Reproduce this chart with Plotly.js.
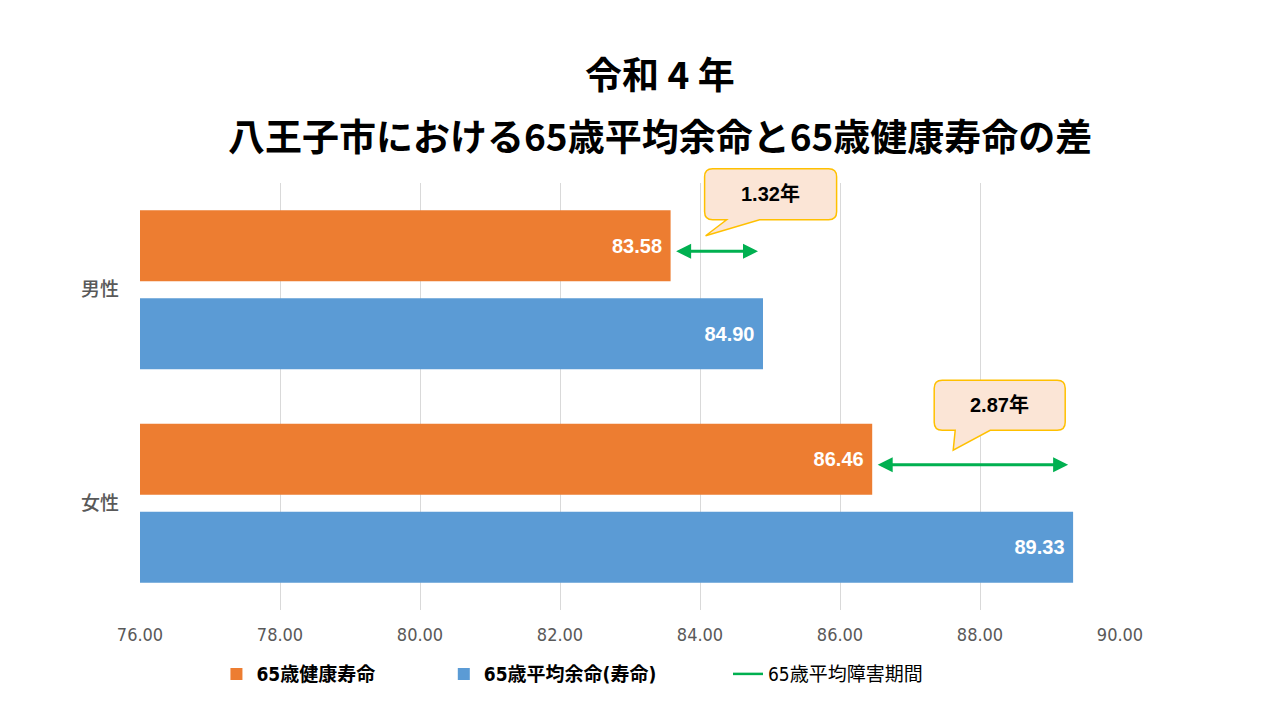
<!DOCTYPE html>
<html lang="ja">
<head>
<meta charset="utf-8">
<script src="https://cdn.plot.ly/plotly-3.0.1.min.js"></script>
<style>
  html, body { margin: 0; padding: 0; background: #fff; }
  #chart { width: 1280px; height: 720px; }
</style>
</head>
<body>
<div id="chart"></div>
<script>
// 区分
var categories = ["男性", "女性"];
// 65歳健康寿命
var healthy = [83.58, 86.46];
// 65歳平均余命(寿命)
var lifeExp = [84.90, 89.33];
var xTicks = [76, 78, 80, 82, 84, 86, 88, 90];

var seriesNames = ["65歳健康寿命", "65歳平均余命(寿命)", "65歳平均障害期間"];
var titleLines = ["令和 4 年", "八王子市における65歳平均余命と65歳健康寿命の差"];

var orange = "#ED7D31";
var blue = "#5B9BD5";
var green = "#00B050";
var cjk = "Noto Sans CJK JP";
var narrow = "Liberation Sans Narrow, DejaVu Sans Condensed, Noto Sans CJK JP";

// callout bubble geometry, pixel offsets from (健康寿命, category centre), y up
var bubbles = [
    {x0: 34, x1: 166, top: 121, bottom: 70, base0: 56, base1: 89, tipX: 35, tipY: 54},
    {x0: 62, x1: 193, top: 123, bottom: 73, base0: 83, base1: 118, tipX: 81, tipY: 53}
];

function bubblePath(b){
    var r = 8;
    return "M" + (b.x0 + r) + "," + b.top +
        " L" + (b.x1 - r) + "," + b.top +
        " Q" + b.x1 + "," + b.top + " " + b.x1 + "," + (b.top - r) +
        " L" + b.x1 + "," + (b.bottom + r) +
        " Q" + b.x1 + "," + b.bottom + " " + (b.x1 - r) + "," + b.bottom +
        " L" + b.base1 + "," + b.bottom +
        " L" + b.tipX + "," + b.tipY +
        " L" + b.base0 + "," + b.bottom +
        " L" + (b.x0 + r) + "," + b.bottom +
        " Q" + b.x0 + "," + b.bottom + " " + b.x0 + "," + (b.bottom + r) +
        " L" + b.x0 + "," + (b.top - r) +
        " Q" + b.x0 + "," + b.top + " " + (b.x0 + r) + "," + b.top + " Z";
}

function labels(arr){
    return arr.map(function(v){ return v.toFixed(2) + "\u00a0"; });
}

// paper position of a category centre (y axis reversed, range 1.5 .. -0.5)
function catPaper(i){
    return (1.5 - i) / 2;
}

var data = [{
    type: "bar",
    orientation: "h",
    name: seriesNames[0],
    y: categories,
    x: healthy,
    marker: {color: orange},
    text: labels(healthy),
    textposition: "inside",
    insidetextanchor: "end",
    textfont: {color: "#ffffff", size: 20, family: "Liberation Sans", weight: "bold"},
    legend: "legend",
    hoverinfo: "skip"
}, {
    type: "bar",
    orientation: "h",
    name: seriesNames[1],
    y: categories,
    x: lifeExp,
    marker: {color: blue},
    text: labels(lifeExp),
    textposition: "inside",
    insidetextanchor: "end",
    textfont: {color: "#ffffff", size: 20, family: "Liberation Sans", weight: "bold"},
    legend: "legend2",
    hoverinfo: "skip"
}, {
    type: "scatter",
    mode: "lines",
    name: seriesNames[2],
    x: [null],
    y: [null],
    line: {color: green, width: 2.5},
    legend: "legend3",
    hoverinfo: "skip"
}];

var annotations = [];
var shapes = [];

// titles
annotations.push({
    xref: "paper", yref: "paper", x: 0.5306, y: 1.2576,
    xanchor: "center", yanchor: "middle",
    text: titleLines[0], showarrow: false,
    font: {family: cjk, size: 37, color: "#000000", weight: "bold"}
});
annotations.push({
    xref: "paper", yref: "paper", x: 0.5306, y: 1.1124,
    xanchor: "center", yanchor: "middle",
    text: titleLines[1], showarrow: false,
    font: {family: cjk, size: 37, color: "#000000", weight: "bold"}
});

for (var i = 0; i < categories.length; i++) {
    // double-headed arrow between 健康寿命 and 平均余命
    annotations.push({
        xref: "x", yref: "y", axref: "x", ayref: "y",
        x: lifeExp[i], y: i - 0.18,
        ax: healthy[i], ay: i - 0.18,
        text: "", showarrow: true,
        arrowside: "end+start",
        arrowhead: 2, startarrowhead: 2,
        arrowsize: 1, startarrowsize: 1,
        arrowwidth: 3, arrowcolor: green,
        standoff: 5, startstandoff: 4
    });

    // speech bubble with the difference
    var b = bubbles[i];
    shapes.push({
        type: "path", layer: "above",
        xref: "x", yref: "paper",
        xsizemode: "pixel", ysizemode: "pixel",
        xanchor: healthy[i], yanchor: catPaper(i),
        path: bubblePath(b),
        fillcolor: "#FBE5D6",
        line: {color: "#FFC000", width: 1.5}
    });
    annotations.push({
        xref: "x", yref: "paper", x: healthy[i], y: catPaper(i),
        xshift: (b.x0 + b.x1) / 2, yshift: (b.top + b.bottom) / 2,
        xanchor: "center", yanchor: "middle",
        text: (lifeExp[i] - healthy[i]).toFixed(2) + "年",
        showarrow: false,
        font: {family: "Liberation Sans, Noto Sans CJK JP", size: 20, color: "#000000", weight: "bold"}
    });
}

var legendBase = {
    orientation: "h",
    yanchor: "middle", y: -0.15,
    xanchor: "left",
    bgcolor: "rgba(0,0,0,0)",
    font: {family: narrow, size: 19, color: "#000000", weight: "bold"}
};

var layout = {
    width: 1280,
    height: 720,
    margin: {l: 140, r: 160, t: 183, b: 110},
    paper_bgcolor: "#ffffff",
    plot_bgcolor: "#ffffff",
    barmode: "group",
    bargap: 0.176,
    bargroupgap: 0.193,
    showlegend: true,
    legend: Object.assign({}, legendBase, {x: 0.078}),
    legend2: Object.assign({}, legendBase, {x: 0.310}),
    legend3: Object.assign({}, legendBase, {x: 0.60,
        font: {family: narrow, size: 19, color: "#000000"}}),
    xaxis: {
        range: [76, 90],
        tickvals: xTicks,
        tickformat: ".2f",
        showgrid: true,
        gridcolor: "#D9D9D9",
        gridwidth: 1,
        zeroline: false,
        showline: false,
        ticks: "",
        ticklabelstandoff: 12,
        tickfont: {family: narrow, size: 18, color: "#595959"}
    },
    yaxis: {
        type: "category",
        range: [1.5, -0.5],
        showgrid: false,
        zeroline: false,
        showline: false,
        ticks: "",
        ticklabelstandoff: 20,
        tickfont: {family: cjk, size: 19, color: "#595959", weight: 500}
    },
    annotations: annotations,
    shapes: shapes
};

Plotly.newPlot("chart", data, layout, {displayModeBar: false, staticPlot: true});
</script>
</body>
</html>
